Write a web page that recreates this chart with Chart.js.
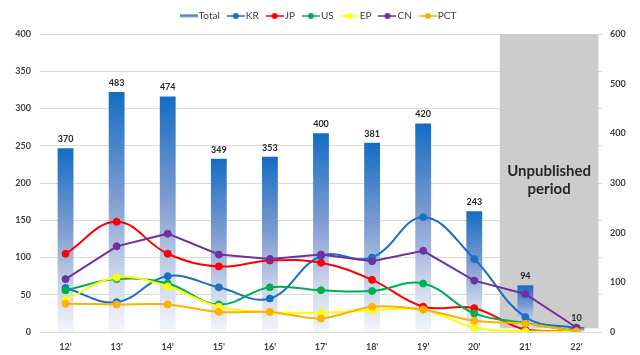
<!DOCTYPE html>
<html>
<head>
<meta charset="utf-8">
<script src="https://cdn.jsdelivr.net/npm/chart.js@4.4.1/dist/chart.umd.min.js"></script>
<style>
html,body{margin:0;padding:0;background:#fff;}
#wrap{width:640px;height:355px;position:relative;}
</style>
</head>
<body>
<div id="wrap"><canvas id="c" width="640" height="355"></canvas></div>
<script>
const categories = ["12'", "13'", "14'", "15'", "16'", "17'", "18'", "19'", "20'", "21'", "22'"];
const total = [370, 483, 474, 349, 353, 400, 381, 420, 243, 94, 10];
const kr  = [59, 40, 75, 60, 45, 102, 100, 154, 98, 20, 5];
const jp  = [105, 148, 105, 88, 96, 93, 70, 34, 32, 3, 1];
const us  = [56, 71, 65, 37, 60, 56, 55, 65, 25, 12, 1];
const ep  = [43, 73, 61, 34, 27, 26, 29, 30, 6, 1, 1];
const cn  = [71, 115, 132, 104, 98, 104, 95, 109, 69, 51, 6];
const pct = [38, 37, 37, 27, 27, 18, 34, 30, 15, 11, 1];
const leftTicks = [0, 50, 100, 150, 200, 250, 300, 350, 400];
const rightTicks = [0, 100, 200, 300, 400, 500, 600];
const shadeLabel = ["Unpublished", "period"];

const FONT = "Lato, 'Open Sans', sans-serif";

function legendIcon(color, isBar) {
  const cv = document.createElement('canvas');
  cv.width = 18; cv.height = 8;
  const g = cv.getContext('2d');
  if (isBar) {
    const gr = g.createLinearGradient(0, 2, 0, 6);
    gr.addColorStop(0, '#1a6ec8'); gr.addColorStop(1, '#9fb6de');
    g.fillStyle = gr; g.fillRect(0, 2.5, 18, 3);
  } else {
    g.strokeStyle = color; g.lineWidth = 1.5;
    g.beginPath(); g.moveTo(0, 4); g.lineTo(18, 4); g.stroke();
    g.fillStyle = color; g.beginPath(); g.arc(9, 4, 3, 0, Math.PI * 2); g.fill();
  }
  return cv;
}

function barGradient(ctx) {
  const chart = ctx.chart;
  if (!chart.chartArea || ctx.raw == null) return '#1a6ec8';
  const ys = chart.scales.y1;
  const top = ys.getPixelForValue(ctx.raw);
  const bottom = ys.getPixelForValue(0);
  const g = chart.ctx.createLinearGradient(0, top, 0, bottom);
  g.addColorStop(0, 'rgb(20,108,196)');
  g.addColorStop(0.45, 'rgb(128,158,210)');
  g.addColorStop(0.75, 'rgb(200,212,234)');
  g.addColorStop(1, 'rgb(243,246,251)');
  return g;
}

function lineDs(label, data, color, tension, order) {
  return {
    type: 'line', label, data, yAxisID: 'y',
    borderColor: color, backgroundColor: color,
    borderWidth: 2, pointRadius: 3.5, pointHoverRadius: 3.5, pointBorderWidth: 1,
    pointBackgroundColor: color, pointBorderColor: color,
    tension, cubicInterpolationMode: 'default', fill: false, order,
    iconColor: color
  };
}

const legendSpace = {
  id: 'legendSpace',
  beforeInit(chart) {
    const l = chart.legend;
    if (!l) return;
    const f = l.fit;
    l.fit = function () { f.call(this); this.height += 3; };
  }
};

const shadePlugin = {
  id: 'shade',
  beforeDatasetsDraw(chart) {
    const { ctx, scales: { x, y } } = chart;
    const step = x.getPixelForValue(1) - x.getPixelForValue(0);
    const left = (x.getPixelForValue(9) + x.getPixelForValue(8)) / 2;
    const right = x.getPixelForValue(10) + step * 0.43;
    const top = y.getPixelForValue(400);
    const bottom = y.getPixelForValue(5);
    ctx.save();
    ctx.fillStyle = '#cdcccd';
    ctx.fillRect(left, top, right - left, bottom - top);
    ctx.fillStyle = '#262626';
    ctx.font = "bold 15px " + FONT;
    ctx.textAlign = 'center'; ctx.textBaseline = 'middle';
    const cx = (left + right) / 2;
    ctx.fillText(shadeLabel[0], cx, 171);
    ctx.fillText(shadeLabel[1], cx, 189);
    ctx.restore();
  }
};

const barLabelPlugin = {
  id: 'barLabels',
  afterDatasetsDraw(chart) {
    const { ctx } = chart;
    const meta = chart.getDatasetMeta(0);
    ctx.save();
    ctx.fillStyle = '#262626';
    ctx.font = "bold 9px " + FONT;
    ctx.textAlign = 'center'; ctx.textBaseline = 'middle';
    meta.data.forEach((el, i) => {
      ctx.fillText(String(total[i]), el.x, el.y - 9);
    });
    ctx.restore();
  }
};

new Chart(document.getElementById('c'), {
  data: {
    labels: categories,
    datasets: [
      { type: 'bar', label: 'Total', data: total, yAxisID: 'y1',
        backgroundColor: barGradient, borderWidth: 0,
        barPercentage: 0.31, categoryPercentage: 1, order: 10, isBar: true },
      lineDs('KR', kr, '#1a70c4', 0.4, 6),
      lineDs('JP', jp, '#ff0000', 0.4, 5),
      lineDs('US', us, '#00b050', 0.4, 4),
      lineDs('EP', ep, '#ffff00', 0.4, 3),
      lineDs('CN', cn, '#7030a0', 0, 2),
      lineDs('PCT', pct, '#ffb000', 0.3, 1)
    ]
  },
  options: {
    responsive: false,
    animation: false,
    devicePixelRatio: 1,
    layout: { padding: { left: 4, right: 4, top: 0, bottom: 0 } },
    plugins: {
      tooltip: { enabled: false },
      legend: {
        position: 'top',
        labels: {
          font: { family: FONT, size: 10 },
          color: '#404040',
          usePointStyle: true,
          padding: 11,
          generateLabels(chart) {
            return chart.data.datasets.map((ds, i) => ({
              text: ds.label,
              pointStyle: legendIcon(ds.iconColor, ds.isBar),
              fillStyle: 'transparent', strokeStyle: 'transparent', lineWidth: 0,
              fontColor: '#404040',
              datasetIndex: i, hidden: false
            }));
          }
        }
      }
    },
    scales: {
      x: {
        grid: { display: false },
        border: { display: false },
        ticks: { color: '#404040', font: { family: FONT, size: 9, weight: 'bold' }, padding: 2 },
        afterFit(s) { s.height = 23; }
      },
      y: {
        position: 'left', min: 0, max: 400,
        afterBuildTicks(s) { s.ticks = leftTicks.map(v => ({ value: v })); },
        grid: { color: '#d9d9d9', lineWidth: 1, drawTicks: false },
        border: { display: false },
        ticks: { color: '#404040', font: { family: FONT, size: 9, weight: 'bold' }, padding: 9 },
        afterFit(s) { s.width = 36; }
      },
      y1: {
        position: 'right', min: 0, max: 600,
        afterBuildTicks(s) { s.ticks = rightTicks.map(v => ({ value: v })); },
        grid: { display: false, drawTicks: false },
        border: { display: false },
        ticks: { color: '#404040', font: { family: FONT, size: 9, weight: 'bold' }, padding: 8 },
        afterFit(s) { s.width = 34; }
      }
    }
  },
  plugins: [legendSpace, shadePlugin, barLabelPlugin]
});
</script>
</body>
</html>
